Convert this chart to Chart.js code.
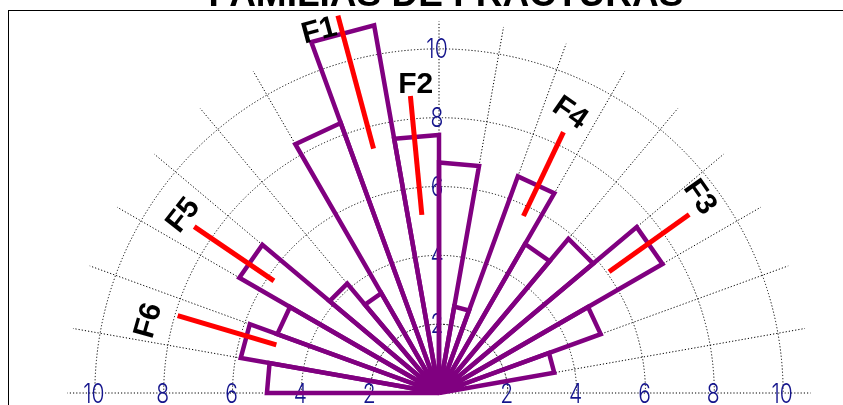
<!DOCTYPE html>
<html>
<head>
<meta charset="utf-8">
<script src="https://cdn.jsdelivr.net/npm/chart.js@4/dist/chart.umd.min.js"></script>
<style>
  html, body { margin: 0; padding: 0; background: #fff; }
  #wrap { position: relative; width: 843px; height: 405px; overflow: hidden; background: #fff; }
  #frame { position: absolute; left: 8px; top: 10px; width: 900px; height: 500px; border: 1px solid #000; }
  #rose { position: absolute; left: 0; top: 0; }
</style>
</head>
<body>
<div id="wrap">
  <div id="frame"></div>
  <canvas id="rose" width="843" height="786"></canvas>
</div>
<script>
// bins of 10 degrees, 0 = east, counted anticlockwise to 180 = west
const binStarts = [0, 10, 20, 30, 40, 50, 60, 70, 80, 90, 100, 110, 120, 130, 140, 150, 160, 170];
const binValues = [0, 3.4, 5.0, 7.5, 5.85, 5.0, 6.7, 2.55, 6.7, 7.5, 10.85, 8.35, 3.35, 4.15, 6.7, 5.0, 5.85, 5.0];

const tickValues = [2, 4, 6, 8, 10];

// fracture families (mean direction and red segment extent)
const familyNames = ['F1', 'F2', 'F3', 'F4', 'F5', 'F6'];
const familyAngles = [105, 95.5, 35.5, 64.5, 145.8, 163.5];
const familyFrom = [7.35, 5.2, 6.07, 5.7, 5.8, 4.93];
const familyTo = [11.35, 8.67, 8.93, 8.4, 8.6, 7.92];

const titleText = 'FAMILIAS DE FRACTURAS';

// where the family names sit (angle, radius) and how they are turned
const labelPlace = {
  angle: [108.3, 94.3, 36.9, 64.9, 145.2, 166],
  radius: [11.1, 9.0, 9.5, 9.0, 9.07, 8.72],
  rotation: [-15, 0, 55, 35, -52, -74]
};

// polarArea starts at west and goes clockwise over the top, so reverse the bins
const roseData = binValues.slice().reverse().concat(new Array(18).fill(0));
const roseLabels = roseData.map((v, i) => String(i));

function toXY(scale, deg, value) {
  const d = scale.getDistanceFromCenterForValue(value);
  const a = deg * Math.PI / 180;
  return { x: scale.xCenter + d * Math.cos(a), y: scale.yCenter - d * Math.sin(a) };
}

function thinText(ctx, txt, x, y) {
  ctx.save();
  ctx.translate(x, y);
  ctx.scale(0.78, 1);
  ctx.fillText(txt, 0, 0);
  ctx.restore();
}

const gridPlugin = {
  id: 'halfGrid',
  beforeDatasetsDraw(chart) {
    const ctx = chart.ctx;
    const s = chart.scales.r;
    ctx.save();
    ctx.strokeStyle = '#000';
    ctx.lineWidth = 1;
    // rings
    tickValues.forEach(v => {
      ctx.setLineDash(v === 2 ? [2, 1.5] : [1.2, 2]);
      ctx.beginPath();
      ctx.arc(s.xCenter, s.yCenter, s.getDistanceFromCenterForValue(v), Math.PI, 2 * Math.PI);
      ctx.stroke();
    });
    // spokes every 10 degrees
    ctx.setLineDash([1.2, 2]);
    for (let a = 0; a <= 180; a += 10) {
      const p = toXY(s, a, 10.8);
      ctx.beginPath();
      ctx.moveTo(s.xCenter, s.yCenter);
      ctx.lineTo(p.x, p.y);
      ctx.stroke();
    }
    ctx.setLineDash([]);
    // tick labels on both arms and the vertical
    ctx.fillStyle = '#14148c';
    ctx.font = '300 27px Inter, "DejaVu Sans", sans-serif';
    ctx.textAlign = 'center';
    ctx.textBaseline = 'middle';
    tickValues.forEach(v => {
      const d = s.getDistanceFromCenterForValue(v);
      thinText(ctx, String(v), s.xCenter - d - 1, s.yCenter + 2);
      thinText(ctx, String(v), s.xCenter + d - 1, s.yCenter + 2);
      thinText(ctx, String(v), s.xCenter - 2, s.yCenter - d + 1);
    });
    ctx.restore();
  },
  afterDatasetsDraw(chart) {
    const ctx = chart.ctx;
    const s = chart.scales.r;
    ctx.save();
    // family segments
    ctx.strokeStyle = '#ff0000';
    ctx.lineWidth = 5;
    ctx.lineCap = 'butt';
    familyNames.forEach((name, i) => {
      const p0 = toXY(s, familyAngles[i], familyFrom[i]);
      const p1 = toXY(s, familyAngles[i], familyTo[i]);
      ctx.beginPath();
      ctx.moveTo(p0.x, p0.y);
      ctx.lineTo(p1.x, p1.y);
      ctx.stroke();
    });
    // family names
    ctx.fillStyle = '#000';
    ctx.font = 'bold 30px "Liberation Sans", Arial, sans-serif';
    ctx.textAlign = 'center';
    ctx.textBaseline = 'middle';
    familyNames.forEach((name, i) => {
      const p = toXY(s, labelPlace.angle[i], labelPlace.radius[i]);
      ctx.save();
      ctx.translate(p.x, p.y);
      ctx.rotate(labelPlace.rotation[i] * Math.PI / 180);
      ctx.fillText(name, 0, 1);
      ctx.restore();
    });
    // title, mostly cut off by the top edge
    ctx.font = 'bold 37px "Liberation Sans", Arial, sans-serif';
    ctx.textBaseline = 'alphabetic';
    ctx.fillText(titleText, 446, 6);
    ctx.restore();
  }
};

new Chart(document.getElementById('rose'), {
  type: 'polarArea',
  data: {
    labels: roseLabels,
    datasets: [{
      data: roseData,
      backgroundColor: 'rgba(0,0,0,0)',
      borderColor: '#800080',
      borderWidth: 4.5,
      borderJoinStyle: 'miter',
      borderAlign: 'center',
      circular: false
    }]
  },
  options: {
    responsive: false,
    animation: false,
    layout: { padding: { left: 46, right: 11, top: 0, bottom: 0 } },
    plugins: {
      legend: { display: false },
      tooltip: { enabled: false }
    },
    scales: {
      r: {
        min: 0,
        max: 11.42,
        startAngle: -90,
        grid: { display: false },
        angleLines: { display: false },
        ticks: { display: false },
        pointLabels: { display: false }
      }
    }
  },
  plugins: [gridPlugin]
});
</script>
</body>
</html>
